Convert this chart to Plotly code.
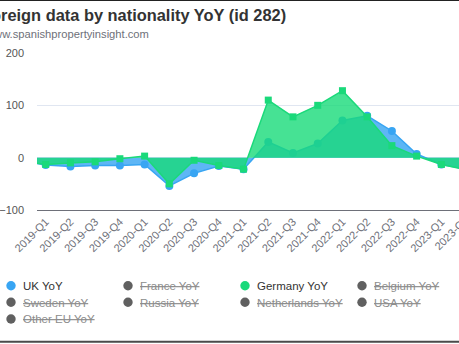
import plotly.graph_objects as go

# Quarterly year-on-year change (%) in foreign buyers, by nationality
quarters = [
    "2018-Q4", "2019-Q1", "2019-Q2", "2019-Q3", "2019-Q4",
    "2020-Q1", "2020-Q2", "2020-Q3", "2020-Q4",
    "2021-Q1", "2021-Q2", "2021-Q3", "2021-Q4",
    "2022-Q1", "2022-Q2", "2022-Q3", "2022-Q4",
    "2023-Q1", "2023-Q2",
]
uk_yoy = [-6, -14, -17, -15, -15, -13, -54, -30, -16, -22,
          30, 9, 27, 71, 80, 51, 7, -13, -22]
germany_yoy = [-6, -13, -10, -8, -2, 3, -50, -5, -15, -22,
               110, 78, 100, 128, 78, 23, 3, -13, -23]

y_ticks = [-100, 0, 100, 200]

legend_names = [
    "UK YoY", "France YoY", "Germany YoY", "Belgium YoY",
    "Sweden YoY", "Russia YoY", "Netherlands YoY", "USA YoY",
    "Other EU YoY",
]
legend_shown = [True, False, True, False, False, False, False, False, False]

title_text = "Foreign data by nationality YoY (id 282)"
subtitle_text = "www.spanishpropertyinsight.com"

# ---- styling -------------------------------------------------------------
UK_COLOR = "#38a5f3"
UK_FILL = "rgba(54,164,242,0.8)"
DE_COLOR = "#1ad97a"
DE_FILL = "rgba(24,219,121,0.8)"
HIDDEN_MARK = "#606060"
FONT = "Liberation Sans, Arial, sans-serif"

W, H = 459, 344
ML, MT, MB = 37, 53, 134
PLOT_W = W - ML
PLOT_H = H - MT - MB


def fx(px):
    """pixel x -> paper x"""
    return (px - ML) / PLOT_W


def fy(py):
    """pixel y -> paper y"""
    return (H - MB - py) / PLOT_H


fig = go.Figure()

fig.add_trace(go.Scatter(
    x=quarters, y=uk_yoy, name="UK YoY",
    mode="lines+markers", fill="tozeroy", fillcolor=UK_FILL,
    line=dict(color=UK_COLOR, width=1.5),
    marker=dict(symbol="circle", size=8, color=UK_COLOR),
    showlegend=False,
))
fig.add_trace(go.Scatter(
    x=quarters, y=germany_yoy, name="Germany YoY",
    mode="lines+markers", fill="tozeroy", fillcolor=DE_FILL,
    line=dict(color=DE_COLOR, width=1.5),
    marker=dict(symbol="square", size=7, color=DE_COLOR),
    showlegend=False,
))

annotations = [
    dict(text=title_text, x=fx(-20), y=fy(15.3), xref="paper", yref="paper",
         xanchor="left", yanchor="middle", showarrow=False, borderpad=0,
         font=dict(family=FONT, size=16.4, color="#333333", weight="bold")),
    dict(text=subtitle_text, x=fx(-16), y=fy(34.4), xref="paper", yref="paper",
         xanchor="left", yanchor="middle", showarrow=False, borderpad=0,
         font=dict(family=FONT, size=11.2, color="#6e7079")),
    # label of the last quarter, whose tick falls just past the right edge
    dict(text=quarters[-1], x=fx(451.3), y=fy(232.8), xref="paper", yref="paper",
         xanchor="center", yanchor="middle", textangle=-45, showarrow=False,
         borderpad=0, font=dict(family=FONT, size=11, color="#6e7079")),
]

shapes = []
# legend laid out in four columns
col_x = [11, 128, 245, 362]
row_y = [285.7, 302.3, 319.0]
series_colors = {"UK YoY": UK_COLOR, "Germany YoY": DE_COLOR}
for i, (name, shown) in enumerate(zip(legend_names, legend_shown)):
    cx = col_x[i % 4]
    cy = row_y[i // 4]
    color = series_colors.get(name, HIDDEN_MARK) if shown else HIDDEN_MARK
    r = 4.7
    shapes.append(dict(type="circle", xref="paper", yref="paper",
                       x0=fx(cx - r), x1=fx(cx + r), y0=fy(cy + r), y1=fy(cy - r),
                       fillcolor=color, line=dict(width=0)))
    label = name if shown else f"<s>{name}</s>"
    annotations.append(dict(
        text=label, x=fx(cx + 10.5), y=fy(cy + 0.3), xref="paper", yref="paper",
        xanchor="left", yanchor="middle", showarrow=False, borderpad=0,
        font=dict(family=FONT, size=11.5,
                  color="#333333" if shown else "#8c8c8c")))

# frame lines of the surrounding card
shapes.append(dict(type="line", xref="paper", yref="paper",
                   x0=fx(-10), x1=fx(470), y0=fy(0.5), y1=fy(0.5),
                   line=dict(color="#222222", width=1)))
shapes.append(dict(type="line", xref="paper", yref="paper",
                   x0=fx(-10), x1=fx(470), y0=fy(341.7), y1=fy(341.7),
                   line=dict(color="#4a4a4a", width=2)))

fig.update_layout(
    width=W, height=H,
    margin=dict(l=ML, r=0, t=MT, b=MB, pad=0),
    paper_bgcolor="white", plot_bgcolor="white",
    showlegend=False,
    font=dict(family=FONT, color="#6e7079"),
    annotations=annotations,
    shapes=shapes,
    xaxis=dict(
        type="category", categoryorder="array", categoryarray=quarters,
        range=[0.648, 17.713], tickangle=-45,
        showgrid=False, zeroline=False,
        showline=True, linecolor="#6e7079", linewidth=1,
        ticks="", tickfont=dict(family=FONT, size=11, color="#6e7079"),
    ),
    yaxis=dict(
        range=[-100, 200], tickvals=y_ticks,
        showgrid=True, gridcolor="#e0e6f1", gridwidth=1,
        zeroline=False, showline=False, ticks="",
        ticklabelstandoff=12,
        tickfont=dict(family=FONT, size=11, color="#555555"),
    ),
)

fig.write_html("out.html")
